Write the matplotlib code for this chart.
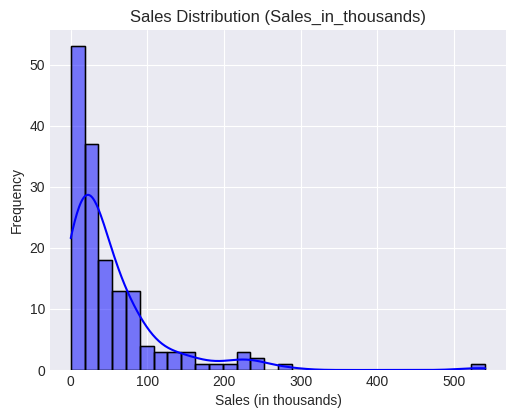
import numpy as np
import matplotlib
matplotlib.use("Agg")
import matplotlib.pyplot as plt

# Histogram data (30 bins over the data range)
data_min = 0.11
data_max = 540.56
counts = [53, 37, 18, 13, 13, 4, 3, 3, 3, 1, 1, 1, 3, 2, 0,
          1, 0, 0, 0, 0, 0, 0, 0, 0, 0, 0, 0, 0, 0, 1]
title = "Sales Distribution (Sales_in_thousands)"
xlabel = "Sales (in thousands)"
ylabel = "Frequency"

plt.style.use("seaborn-v0_8-darkgrid")
plt.rcParams["font.family"] = ["Liberation Sans", "DejaVu Sans"]

counts_arr = np.array(counts, dtype=float)
edges = np.linspace(data_min, data_max, len(counts) + 1)
centers = (edges[:-1] + edges[1:]) / 2
binw = edges[1] - edges[0]

# weighted gaussian KDE (Scott's rule), scaled to counts
n = counts_arr.sum()
mean = np.sum(counts_arr * centers) / n
std = np.sqrt(np.sum(counts_arr * (centers - mean) ** 2) / (n - 1))
bw = std * n ** (-1 / 5)
grid = np.linspace(data_min, data_max, 400)
dens = np.sum(counts_arr[None, :] * np.exp(-0.5 * ((grid[:, None] - centers[None, :]) / bw) ** 2),
              axis=1) / (n * bw * np.sqrt(2 * np.pi))
kde_counts = dens * n * binw

fig = plt.figure(figsize=(5.15, 4.18), dpi=100)
ax = fig.add_axes([50 / 515, 1 - 370 / 418, 456 / 515, 340 / 418])

ax.hist(centers, bins=edges, weights=counts_arr, color="blue", alpha=0.5,
        edgecolor="black", linewidth=1.0)
ax.hist(centers, bins=edges, weights=counts_arr, histtype="bar", facecolor="none",
        edgecolor="black", linewidth=1.0)
ax.plot(grid, kde_counts, color="blue", linewidth=1.5)

ax.set_title(title, fontsize=12)
ax.set_xlabel(xlabel, fontsize=10)
ax.set_ylabel(ylabel, fontsize=10)
ax.set_xlim(data_min - 0.05 * (data_max - data_min), data_max + 0.05 * (data_max - data_min))
ax.set_ylim(0, max(counts) * 1.05)

fig.savefig("out.png", dpi=100)
